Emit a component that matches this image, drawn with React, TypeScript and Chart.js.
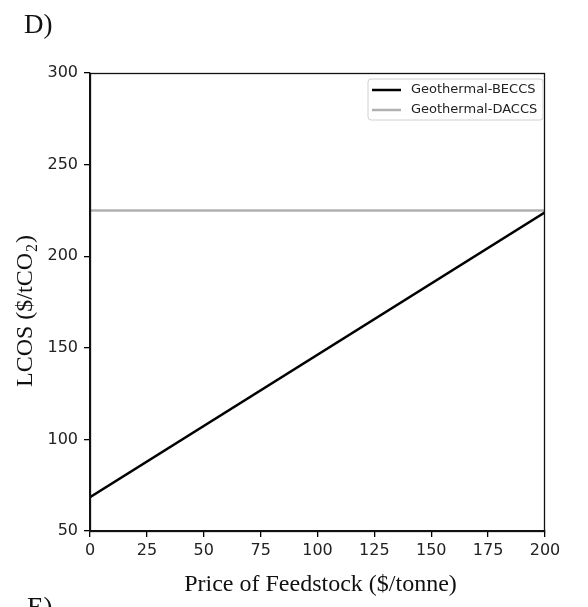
import React, { useEffect, useRef } from "react";
import { Chart, registerables } from "chart.js";

Chart.register(...registerables);

const feedstockPrice = [0, 200];
const beccsLcos = [68.5, 224];
const daccsLcos = [225, 225];
const seriesLabels = ["Geothermal-BECCS", "Geothermal-DACCS"];
const seriesColors = ["#000000", "#b0b0b0"];
const xTitle = "Price of Feedstock ($/tonne)";
const yTitleMain = "LCOS ($/tCO";
const yTitleSub = "2";
const yTitleEnd = ")";
const panelLabel = "D)";
const nextPanelLabel = "E)";

const SERIF = "'Liberation Serif', 'Times New Roman', serif";
const SANS = "'DejaVu Sans', sans-serif";

const decorPlugin = {
  id: "decor",
  afterDraw(chart: any) {
    const ctx = chart.ctx;
    const a = chart.chartArea;
    ctx.save();
    // frame
    ctx.strokeStyle = "#111";
    ctx.lineWidth = 1.3;
    ctx.strokeRect(a.left + 0.5, a.top + 0.5, a.right - a.left - 1, a.bottom - a.top);

    // legend
    const lx = a.right - 177, ly = a.top + 6, lw = 175, lh = 41;
    ctx.fillStyle = "rgba(255,255,255,0.8)";
    ctx.strokeStyle = "#d0d0d0";
    ctx.lineWidth = 1;
    ctx.beginPath();
    const r = 3;
    ctx.moveTo(lx + r, ly);
    ctx.lineTo(lx + lw - r, ly);
    ctx.quadraticCurveTo(lx + lw, ly, lx + lw, ly + r);
    ctx.lineTo(lx + lw, ly + lh - r);
    ctx.quadraticCurveTo(lx + lw, ly + lh, lx + lw - r, ly + lh);
    ctx.lineTo(lx + r, ly + lh);
    ctx.quadraticCurveTo(lx, ly + lh, lx, ly + lh - r);
    ctx.lineTo(lx, ly + r);
    ctx.quadraticCurveTo(lx, ly, lx + r, ly);
    ctx.fill();
    ctx.stroke();
    ctx.font = `13px ${SANS}`;
    ctx.textBaseline = "middle";
    ctx.textAlign = "left";
    chart.data.datasets.forEach((ds: any, i: number) => {
      const y = ly + 11 + i * 20;
      ctx.strokeStyle = ds.borderColor;
      ctx.lineWidth = 2.5;
      ctx.beginPath();
      ctx.moveTo(lx + 4, y);
      ctx.lineTo(lx + 33, y);
      ctx.stroke();
      ctx.fillStyle = "#222";
      ctx.fillText(ds.label, lx + 43, y);
    });

    // axis titles
    ctx.fillStyle = "#111";
    ctx.font = `24px ${SERIF}`;
    ctx.textAlign = "center";
    ctx.textBaseline = "alphabetic";
    ctx.fillText(xTitle, (a.left + a.right) / 2 + 3, 591);

    ctx.save();
    ctx.translate(32, 387);
    ctx.rotate(-Math.PI / 2);
    ctx.textAlign = "left";
    ctx.font = `24px ${SERIF}`;
    ctx.fillText(yTitleMain, 0, 0);
    let w = ctx.measureText(yTitleMain).width;
    ctx.font = `16px ${SERIF}`;
    ctx.fillText(yTitleSub, w + 1, 5);
    w += ctx.measureText(yTitleSub).width + 2;
    ctx.font = `24px ${SERIF}`;
    ctx.fillText(yTitleEnd, w, 0);
    ctx.restore();

    // panel labels
    ctx.font = `27px ${SERIF}`;
    ctx.textAlign = "left";
    ctx.fillText(panelLabel, 24, 33);
    ctx.fillText(nextPanelLabel, 27, 616);
    ctx.restore();
  },
};

export default function App() {
  const ref = useRef<HTMLCanvasElement>(null);
  useEffect(() => {
    if (!ref.current) return;
    const mk = (vals: number[]) => feedstockPrice.map((x, i) => ({ x, y: vals[i] }));
    const chart = new Chart(ref.current, {
      type: "line",
      data: {
        datasets: [
          { label: seriesLabels[0], data: mk(beccsLcos), borderColor: seriesColors[0], borderWidth: 2.5, pointRadius: 0, fill: false, tension: 0 },
          { label: seriesLabels[1], data: mk(daccsLcos), borderColor: seriesColors[1], borderWidth: 2.5, pointRadius: 0, fill: false, tension: 0 },
        ],
      },
      options: {
        responsive: false,
        animation: false,
        devicePixelRatio: 1,
        layout: { padding: { left: 0, top: 73, right: 43, bottom: 0 } },
        plugins: { legend: { display: false }, tooltip: { enabled: false }, title: { display: false } },
        scales: {
          x: {
            type: "linear",
            min: 0,
            max: 200,
            ticks: { stepSize: 25, color: "#222", font: { family: SANS, size: 16 }, padding: 4, maxRotation: 0 },
            grid: { drawOnChartArea: false, drawTicks: true, tickLength: 6, color: "#000", lineWidth: 1.3 },
            border: { display: true, color: "#111", width: 1.3 },
            afterFit: (s: any) => { s.height = 76; },
          },
          y: {
            type: "linear",
            min: 50,
            max: 300,
            ticks: { stepSize: 50, color: "#222", font: { family: SANS, size: 16 }, padding: 6 },
            grid: { drawOnChartArea: false, drawTicks: true, tickLength: 6, color: "#000", lineWidth: 1.3 },
            border: { display: true, color: "#111", width: 1.3 },
            afterFit: (s: any) => { s.width = 90; },
          },
        },
      },
      plugins: [decorPlugin],
    });
    return () => chart.destroy();
  }, []);
  return (
    <div style={{ position: "absolute", left: 0, top: 0, width: 588, height: 607, background: "#fff" }}>
      <canvas ref={ref} width={588} height={607} style={{ width: 588, height: 607, display: "block" }} />
    </div>
  );
}
